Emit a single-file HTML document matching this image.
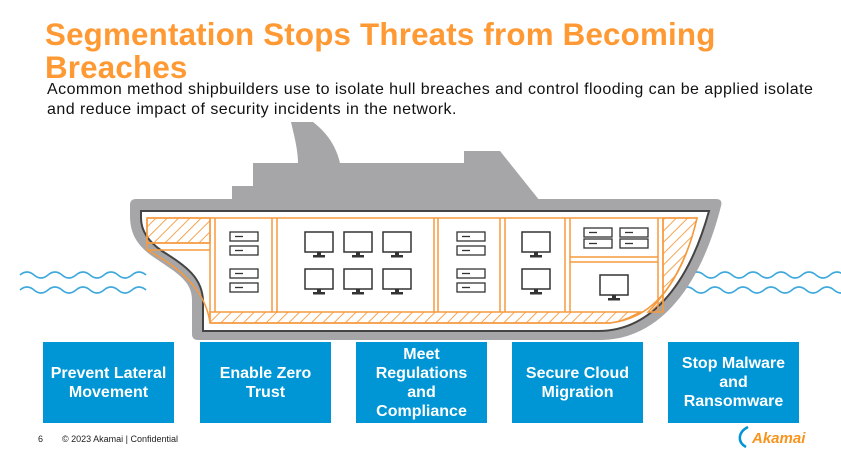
<!DOCTYPE html>
<html><head><meta charset="utf-8"><style>
body{margin:0;width:841px;height:466px;overflow:hidden;background:#fff;font-family:"Liberation Sans",sans-serif;position:relative}
.t{position:absolute;left:45px;top:18px;color:#ff9933;font-weight:bold;font-size:31.3px;line-height:33px;letter-spacing:0.2px}
.s{position:absolute;left:47px;top:80px;font-size:16px;line-height:20px;color:#111;letter-spacing:0.45px}
.b{position:absolute;top:342px;height:81px;width:131px;background:#0096d6;color:#fff;font-weight:bold;font-size:16px;line-height:19px;display:flex;align-items:center;justify-content:center;text-align:center}
.f{position:absolute;top:434px;font-size:9px;color:#222}
</style></head><body>
<div class="t">Segmentation Stops Threats from Becoming<br>Breaches</div>
<div class="s">Acommon method shipbuilders use to isolate hull breaches and control flooding can be applied isolate<br>and reduce impact of security incidents in the network.</div>
<svg width="841" height="466" style="position:absolute;left:0;top:0">
<defs>
<pattern id="h" width="8" height="8" patternUnits="userSpaceOnUse" patternTransform="rotate(45)">
<line x1="0" y1="0" x2="0" y2="8" stroke="#f59a3e" stroke-width="1.8"/></pattern>
<g id="sv"><rect x="0" y="0" width="28" height="9" fill="#fff" stroke="#333" stroke-width="1.3"/><line x1="5" y1="4.5" x2="13" y2="4.5" stroke="#333" stroke-width="1.3"/></g>
<g id="mon"><rect x="0" y="0" width="28" height="20" fill="#fff" stroke="#333" stroke-width="1.5"/><rect x="12" y="20" width="4" height="3" fill="#333"/><rect x="8" y="23" width="12" height="2.5" fill="#333"/></g>
</defs>
<g fill="none" stroke="#3fa9dc" stroke-width="1.6">
<path d="M20,275 q7,-6 14,0 t14,0 t14,0 t14,0 t14,0 t14,0 t14,0 t14,0 t14,0"/>
<path d="M20,290 q7,-6 14,0 t14,0 t14,0 t14,0 t14,0 t14,0 t14,0 t14,0 t14,0"/>
<path d="M690,275 q7,-6 14,0 t14,0 t14,0 t14,0 t14,0 t14,0 t14,0 t14,0 t14,0 t14,0 t14,0"/>
<path d="M680,290 q7,-6 14,0 t14,0 t14,0 t14,0 t14,0 t14,0 t14,0 t14,0 t14,0 t14,0 t14,0 t14,0"/>
</g>
<path d="M232,201 L232,186 L253,186 L253,163 L298,163 C298,150 294,135 291,122 L313,122 C330,135 337,150 340,163 L464,163 L464,151 L500,151 L540,201 Z" fill="#a6a6a8"/>
<path d="M130,205 Q130,199 136,199 L716,199 Q723,199 721,206 C702,282 662,340 600,340 L198,340 Q192,340 192,334 L192,300 C192,280 175,272 152,256 C134,243 130,230 130,215 Z" fill="#a6a6a8"/>
<path d="M141,211 L709,211 C691,276 656,331 598,331 L203,331 L203,302 C203,278 186,266 162,251 C146,240 141,228 141,218 Z" fill="#fff" stroke="#444" stroke-width="2"/>
<g stroke="#f59a3e" stroke-width="1.5" fill="none">
<rect x="147" y="218" width="63" height="25" fill="url(#h)"/>
<path d="M210,312 L640,312 C630,318 620,322 610,323 L210,323 Z" fill="url(#h)"/>
<path d="M663,218 L697,218 C690,250 675,285 648,312 L663,312 Z" fill="url(#h)"/>
<path d="M147,218 L697,218 C685,270 660,318 610,323 L210,323"/>
<path d="M147,218 L147,250 C170,262 205,285 210,323"/>
<line x1="147" y1="243" x2="210" y2="243"/><line x1="147" y1="250" x2="210" y2="250"/>
<line x1="210" y1="218" x2="210" y2="323"/><line x1="215" y1="218" x2="215" y2="312"/>
<line x1="272" y1="218" x2="272" y2="312"/><line x1="277" y1="218" x2="277" y2="312"/>
<line x1="434" y1="218" x2="434" y2="312"/><line x1="438" y1="218" x2="438" y2="312"/>
<line x1="500" y1="218" x2="500" y2="312"/><line x1="505" y1="218" x2="505" y2="312"/>
<line x1="565" y1="218" x2="565" y2="312"/><line x1="570" y1="218" x2="570" y2="312"/>
<line x1="658" y1="218" x2="658" y2="312"/><line x1="663" y1="218" x2="663" y2="312"/>
<line x1="570" y1="257" x2="658" y2="257"/><line x1="570" y1="262" x2="658" y2="262"/>
</g>
<use href="#sv" x="230" y="232"/><use href="#sv" x="230" y="246"/><use href="#sv" x="230" y="269"/><use href="#sv" x="230" y="283"/>
<use href="#sv" x="457" y="232"/><use href="#sv" x="457" y="246"/><use href="#sv" x="457" y="269"/><use href="#sv" x="457" y="283"/>
<use href="#sv" x="584" y="228"/><use href="#sv" x="584" y="239"/><use href="#sv" x="620" y="228"/><use href="#sv" x="620" y="239"/>
<use href="#mon" x="305" y="232"/><use href="#mon" x="344" y="232"/><use href="#mon" x="383" y="232"/>
<use href="#mon" x="305" y="269"/><use href="#mon" x="344" y="269"/><use href="#mon" x="383" y="269"/>
<use href="#mon" x="522" y="232"/><use href="#mon" x="522" y="269"/><use href="#mon" x="600" y="275"/>
<path d="M748,427 C738,432 737,442 746,447" fill="none" stroke="#0096d6" stroke-width="2.5"/>
<text x="752" y="443" font-family="Liberation Sans" font-style="italic" font-weight="bold" font-size="15" fill="#f7941d">Akamai</text>
</svg>
<div class="b" style="left:43px">Prevent Lateral<br>Movement</div>
<div class="b" style="left:200px">Enable Zero<br>Trust</div>
<div class="b" style="left:356px">Meet<br>Regulations<br>and<br>Compliance</div>
<div class="b" style="left:512px">Secure Cloud<br>Migration</div>
<div class="b" style="left:668px">Stop Malware<br>and<br>Ransomware</div>
<div class="f" style="left:38px">6</div>
<div class="f" style="left:62px">© 2023 Akamai | Confidential</div>
</body></html>
